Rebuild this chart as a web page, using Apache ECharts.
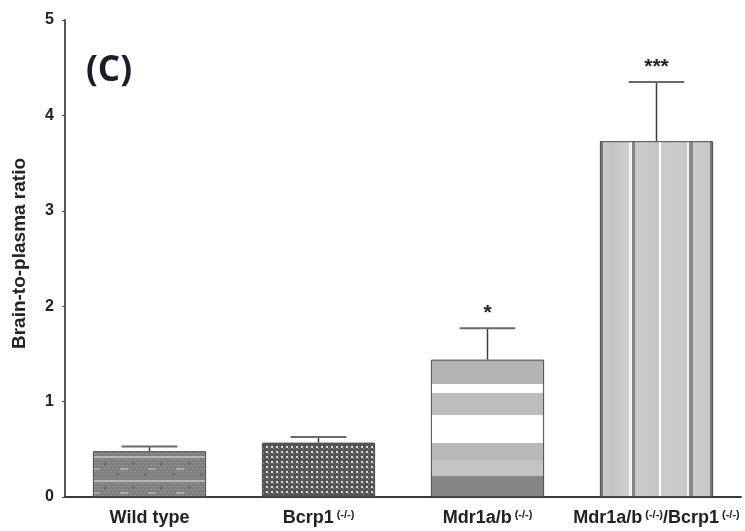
<!DOCTYPE html>
<html>
<head>
<meta charset="utf-8">
<script src="https://cdn.jsdelivr.net/npm/echarts@6/dist/echarts.min.js"></script>
<style>
  html, body { margin: 0; padding: 0; background: #fff; }
  #chart { width: 745px; height: 531px; }
</style>
</head>
<body>
<div id="chart"></div>
<script>
// Brain-to-plasma ratio by genotype
const categories = ['Wild type', 'Bcrp1(-/-)', 'Mdr1a/b (-/-)', 'Mdr1a/b(-/-)/Bcrp1(-/-)'];
const means = [0.48, 0.57, 1.44, 3.73];
const errors = [0.05, 0.06, 0.33, 0.62];
const significance = ['', '', '*', '***'];
const yMin = 0, yMax = 5, yStep = 1;

const FONT = '"Liberation Sans", Arial, sans-serif';

// Tiled fills for the first two bars
function makeTile(w, h, draw) {
  const c = document.createElement('canvas');
  c.width = w; c.height = h;
  draw(c.getContext('2d'));
  return c;
}
const brickTile = makeTile(28, 24, g => {
  g.fillStyle = '#808080'; g.fillRect(0, 0, 28, 24);
  g.fillStyle = '#929292';
  for (let y = 0; y < 24; y += 3) for (let x = (y % 2) * 2; x < 28; x += 4) g.fillRect(x, y, 2, 1);
  g.fillStyle = '#b6b6b6'; g.fillRect(0, 0, 28, 2);
  g.fillStyle = '#ababab'; g.fillRect(8, 12, 8, 2);
  g.fillStyle = '#6e6e6e'; g.fillRect(20, 6, 3, 3); g.fillRect(4, 17, 3, 3);
});
const dotTile = makeTile(5, 5, g => {
  g.fillStyle = '#555555'; g.fillRect(0, 0, 5, 5);
  g.fillStyle = '#dadada'; g.fillRect(1, 1, 2, 2);
  g.fillStyle = '#929292'; g.fillRect(3, 3, 1, 1);
});

// Horizontal bands
const bandFill = {
  type: 'linear', x: 0, y: 0, x2: 0, y2: 1,
  colorStops: [
    { offset: 0.00, color: '#b3b3b3' }, { offset: 0.18, color: '#b3b3b3' },
    { offset: 0.18, color: '#ffffff' }, { offset: 0.24, color: '#ffffff' },
    { offset: 0.24, color: '#bdbdbd' }, { offset: 0.40, color: '#bdbdbd' },
    { offset: 0.40, color: '#ffffff' }, { offset: 0.61, color: '#ffffff' },
    { offset: 0.61, color: '#b8b8b8' }, { offset: 0.73, color: '#b8b8b8' },
    { offset: 0.73, color: '#c4c4c4' }, { offset: 0.85, color: '#c4c4c4' },
    { offset: 0.85, color: '#858585' }, { offset: 1.00, color: '#858585' }
  ]
};
// Vertical stripes
const stripeFill = {
  type: 'linear', x: 0, y: 0, x2: 1, y2: 0,
  colorStops: [
    { offset: 0.00, color: '#777777' }, { offset: 0.03, color: '#777777' },
    { offset: 0.03, color: '#c9c9c9' }, { offset: 0.12, color: '#c2c2c2' },
    { offset: 0.20, color: '#cdcdcd' }, { offset: 0.26, color: '#cdcdcd' },
    { offset: 0.26, color: '#f4f4f4' }, { offset: 0.28, color: '#f4f4f4' },
    { offset: 0.28, color: '#858585' }, { offset: 0.31, color: '#858585' },
    { offset: 0.31, color: '#cbcbcb' }, { offset: 0.52, color: '#c6c6c6' },
    { offset: 0.52, color: '#ffffff' }, { offset: 0.54, color: '#ffffff' },
    { offset: 0.54, color: '#cccccc' }, { offset: 0.77, color: '#c8c8c8' },
    { offset: 0.77, color: '#f2f2f2' }, { offset: 0.79, color: '#f2f2f2' },
    { offset: 0.79, color: '#8a8a8a' }, { offset: 0.82, color: '#8a8a8a' },
    { offset: 0.82, color: '#cbcbcb' }, { offset: 0.97, color: '#c6c6c6' },
    { offset: 0.97, color: '#777777' }, { offset: 1.00, color: '#777777' }
  ]
};
const fills = [
  { image: brickTile, repeat: 'repeat' },
  { image: dotTile, repeat: 'repeat' },
  bandFill,
  stripeFill
];

// "(-/-)" is set as a superscript
function richLabel(name) {
  return name.replace(/\s*\(-\/-\)/g, m => '{s|' + m.trim() + '}').replace(/^([^{]+)/, '{a|$1}')
    .replace(/\}([^{}]+)\{/g, '}{a|$1}{');
}

const chart = echarts.init(document.getElementById('chart'), null, { renderer: 'canvas' });
chart.setOption({
  animation: false,
  backgroundColor: '#ffffff',
  grid: { left: 65, right: 4, top: 20, bottom: 34, containLabel: false },
  graphic: [{
    type: 'text', left: 86, top: 54,
    style: { text: '(C)', font: 'bold 35px "Open Sans", "DejaVu Sans", sans-serif', fill: '#1c1c2a' }
  }],
  xAxis: {
    type: 'category',
    data: categories,
    axisLine: { lineStyle: { color: '#3a3a3a', width: 2 } },
    axisTick: { alignWithLabel: true, length: 3, lineStyle: { color: '#444' } },
    axisLabel: {
      margin: 12, interval: 0,
      formatter: v => richLabel(v),
      rich: {
        a: { fontFamily: FONT, fontWeight: 'bold', fontSize: 18, color: '#222' },
        s: { fontFamily: FONT, fontWeight: 'bold', fontSize: 11, color: '#222', verticalAlign: 'top', padding: [0, 0, 0, 3] }
      }
    }
  },
  yAxis: {
    type: 'value', min: yMin, max: yMax, interval: yStep,
    name: 'Brain-to-plasma ratio', nameLocation: 'middle', nameGap: 36, nameRotate: 90,
    nameTextStyle: { fontFamily: FONT, fontWeight: 'bold', fontSize: 19, color: '#222', padding: [0, 0, 0, 10] },
    axisLine: { show: true, lineStyle: { color: '#555', width: 2 } },
    axisTick: { show: true, length: 3, lineStyle: { color: '#555' } },
    axisLabel: { margin: 11, fontFamily: FONT, fontWeight: 'bold', fontSize: 16, color: '#222' },
    splitLine: { show: false }
  },
  series: [
    {
      type: 'bar',
      barWidth: '67%',
      data: means.map((v, i) => ({ value: v, itemStyle: { color: fills[i] } })),
      itemStyle: { borderColor: '#4a4a4a', borderWidth: 1 },
      z: 2
    },
    {
      type: 'custom',
      data: means.map((v, i) => [i, v, errors[i], significance[i]]),
      z: 3,
      renderItem: (params, api) => {
        const i = api.value(0);
        const base = api.coord([i, api.value(1)]);
        const top = api.coord([i, api.value(1) + api.value(2)]);
        const half = api.size([1, 0])[0] * 0.165;
        const stroke = { stroke: '#3c3c3c', lineWidth: 1.5 };
        const children = [
          { type: 'line', shape: { x1: base[0], y1: base[1], x2: top[0], y2: top[1] }, style: stroke },
          { type: 'line', shape: { x1: top[0] - half, y1: top[1], x2: top[0] + half, y2: top[1] }, style: Object.assign({}, stroke, { stroke: '#6a6a6a', lineWidth: 2 }) }
        ];
        const mark = significance[i];
        if (mark) {
          children.push({
            type: 'text',
            style: {
              text: mark, x: top[0], y: top[1] - 4,
              align: 'center', verticalAlign: 'bottom',
              font: 'bold 21px ' + FONT, fill: '#222'
            }
          });
        }
        return { type: 'group', children };
      }
    }
  ]
});
</script>
</body>
</html>
